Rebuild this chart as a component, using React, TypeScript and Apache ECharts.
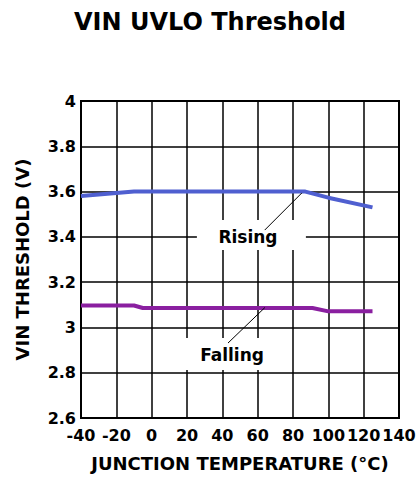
import React, { useEffect, useRef } from "react";
import * as echarts from "echarts";

const TITLE = "VIN UVLO Threshold";
const X_NAME = "JUNCTION TEMPERATURE (°C)";
const Y_NAME = "VIN THRESHOLD (V)";

const risingX = [-40, -10, 87, 100, 125];
const risingY = [3.58, 3.6, 3.6, 3.573, 3.53];
const fallingX = [-40, -10, -5, 91, 100, 125];
const fallingY = [3.097, 3.097, 3.086, 3.086, 3.071, 3.071];

const annRising = { text: "Rising", lx: 54.5, ly: 3.4, bx0: 25.6, by0: 3.474, bx1: 87.3, by1: 3.342, l0: [64, 3.43], l1: [85, 3.594] };
const annFalling = { text: "Falling", lx: 45.5, ly: 2.878, bx0: 16, by0: 2.953, bx1: 65.8, by1: 2.812, l0: [43.2, 2.931], l1: [64.1, 3.088] };

const FONT = "'DejaVu Sans', 'Liberation Sans', Arial, sans-serif";

export default function App() {
  const ref = useRef<HTMLDivElement>(null);
  useEffect(() => {
    document.body.style.margin = "0";
    const chart = echarts.init(ref.current!, null, { renderer: "svg" });
    chart.setOption({
      animation: false,
      backgroundColor: "#fff",
      title: {
        text: TITLE,
        left: "center",
        top: 5,
        textStyle: { fontFamily: FONT, fontWeight: "bold", fontSize: 24, color: "#000" },
      },
      grid: {
        left: 81,
        top: 101,
        width: 318,
        height: 317,
        show: true,
        borderColor: "#000",
        borderWidth: 2,
        backgroundColor: "#fff",
      },
      xAxis: {
        type: "value",
        min: -40,
        max: 140,
        interval: 20,
        name: X_NAME,
        nameLocation: "middle",
        nameGap: 36,
        nameTextStyle: { fontFamily: FONT, fontWeight: "bold", fontSize: 18, color: "#000" },
        axisLine: { show: false },
        axisTick: { show: false },
        axisLabel: { fontFamily: FONT, fontWeight: "bold", fontSize: 16, color: "#000", margin: 9 },
        splitLine: { show: true, lineStyle: { color: "#000", width: 1.5 } },
      },
      yAxis: {
        type: "value",
        min: 2.6,
        max: 4,
        interval: 0.2,
        name: Y_NAME,
        nameLocation: "middle",
        nameGap: 50,
        nameRotate: 90,
        nameTextStyle: { fontFamily: FONT, fontWeight: "bold", fontSize: 18, color: "#000" },
        axisLine: { show: false },
        axisTick: { show: false },
        axisLabel: {
          fontFamily: FONT,
          fontWeight: "bold",
          fontSize: 16,
          color: "#000",
          margin: 5,
          formatter: (v: number) => String(parseFloat(v.toFixed(1))),
        },
        splitLine: { show: true, lineStyle: { color: "#000", width: 1.5 } },
      },
      series: [
        {
          type: "line",
          data: risingX.map((x, i) => [x, risingY[i]]),
          showSymbol: false,
          lineStyle: { color: "#4f5fd0", width: 4 },
          z: 3,
        },
        {
          type: "line",
          data: fallingX.map((x, i) => [x, fallingY[i]]),
          showSymbol: false,
          lineStyle: { color: "#8a1fa0", width: 4 },
          z: 3,
        },
      ],
    });

    const px = (p: number[]) => chart.convertToPixel({ gridIndex: 0 }, p) as number[];
    const makeAnn = (a: any) => {
      const b0 = px([a.bx0, a.by0]);
      const b1 = px([a.bx1, a.by1]);
      const c = px([a.lx, a.ly]);
      const p0 = px(a.l0);
      const p1 = px(a.l1);
      return [
        {
          type: "rect",
          shape: { x: b0[0], y: b0[1], width: b1[0] - b0[0], height: b1[1] - b0[1] },
          style: { fill: "#fff" },
          z: 10,
        },
        {
          type: "line",
          shape: { x1: p0[0], y1: p0[1], x2: p1[0], y2: p1[1] },
          style: { stroke: "#000", lineWidth: 1 },
          z: 11,
        },
        {
          type: "text",
          x: c[0],
          y: c[1],
          style: {
            text: a.text,
            fontFamily: FONT,
            fontWeight: "bold",
            fontSize: 17,
            fill: "#000",
            align: "center",
            verticalAlign: "middle",
          },
          z: 12,
        },
      ];
    };
    chart.setOption({ graphic: [...makeAnn(annRising), ...makeAnn(annFalling)] });
    return () => chart.dispose();
  }, []);
  return <div ref={ref} style={{ width: 420, height: 478 }} />;
}
